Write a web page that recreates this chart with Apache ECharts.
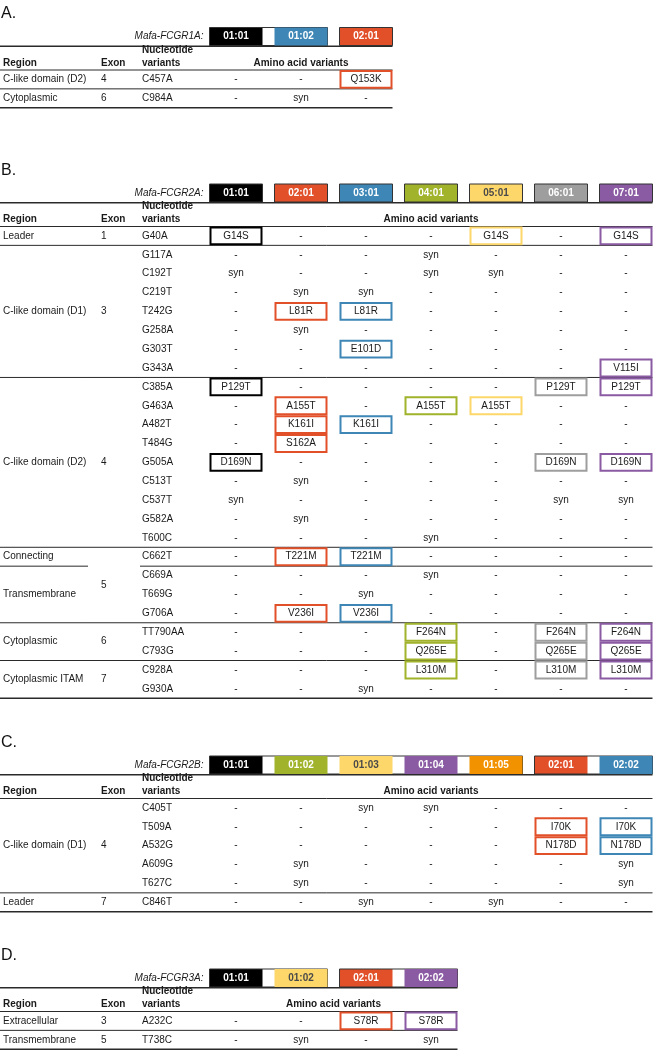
<!DOCTYPE html>
<html><head><meta charset="utf-8">
<script src="https://cdn.jsdelivr.net/npm/echarts@6/dist/echarts.min.js"></script>
<style>html,body{margin:0;padding:0;background:#fff}#c{width:660px;height:1050px}</style>
</head><body><div id="c"></div>
<script>
// ---------------- DATA ----------------
// Panel A
const A_gene = 'Mafa-FCGR1A:';
const A_alleles = ['01:01', '01:02', '02:01'];
const A_nucleotides = ['C457A', 'C984A'];
const A_regions = [['C-like domain (D2)', 1], ['Cytoplasmic', 1]];
const A_exons = [['4', 1], ['6', 1]];
const A_variants = [
  ['-', '-', 'Q153K'],
  ['-', 'syn', '-']
];
// Panel B
const B_gene = 'Mafa-FCGR2A:';
const B_alleles = ['01:01', '02:01', '03:01', '04:01', '05:01', '06:01', '07:01'];
const B_nucleotides = ['G40A', 'G117A', 'C192T', 'C219T', 'T242G', 'G258A', 'G303T', 'G343A',
  'C385A', 'G463A', 'A482T', 'T484G', 'G505A', 'C513T', 'C537T', 'G582A', 'T600C',
  'C662T', 'C669A', 'T669G', 'G706A', 'TT790AA', 'C793G', 'C928A', 'G930A'];
const B_regions = [['Leader', 1], ['C-like domain (D1)', 7], ['C-like domain (D2)', 9], ['Connecting', 1],
  ['Transmembrane', 3], ['Cytoplasmic', 2], ['Cytoplasmic ITAM', 2]];
const B_exons = [['1', 1], ['3', 7], ['4', 9], ['5', 4], ['6', 2], ['7', 2]];
const B_variants = [
  ['G14S', '-', '-', '-', 'G14S', '-', 'G14S'],
  ['-', '-', '-', 'syn', '-', '-', '-'],
  ['syn', '-', '-', 'syn', 'syn', '-', '-'],
  ['-', 'syn', 'syn', '-', '-', '-', '-'],
  ['-', 'L81R', 'L81R', '-', '-', '-', '-'],
  ['-', 'syn', '-', '-', '-', '-', '-'],
  ['-', '-', 'E101D', '-', '-', '-', '-'],
  ['-', '-', '-', '-', '-', '-', 'V115I'],
  ['P129T', '-', '-', '-', '-', 'P129T', 'P129T'],
  ['-', 'A155T', '-', 'A155T', 'A155T', '-', '-'],
  ['-', 'K161I', 'K161I', '-', '-', '-', '-'],
  ['-', 'S162A', '-', '-', '-', '-', '-'],
  ['D169N', '-', '-', '-', '-', 'D169N', 'D169N'],
  ['-', 'syn', '-', '-', '-', '-', '-'],
  ['syn', '-', '-', '-', '-', 'syn', 'syn'],
  ['-', 'syn', '-', '-', '-', '-', '-'],
  ['-', '-', '-', 'syn', '-', '-', '-'],
  ['-', 'T221M', 'T221M', '-', '-', '-', '-'],
  ['-', '-', '-', 'syn', '-', '-', '-'],
  ['-', '-', 'syn', '-', '-', '-', '-'],
  ['-', 'V236I', 'V236I', '-', '-', '-', '-'],
  ['-', '-', '-', 'F264N', '-', 'F264N', 'F264N'],
  ['-', '-', '-', 'Q265E', '-', 'Q265E', 'Q265E'],
  ['-', '-', '-', 'L310M', '-', 'L310M', 'L310M'],
  ['-', '-', 'syn', '-', '-', '-', '-']
];
// Panel C
const C_gene = 'Mafa-FCGR2B:';
const C_alleles = ['01:01', '01:02', '01:03', '01:04', '01:05', '02:01', '02:02'];
const C_nucleotides = ['C405T', 'T509A', 'A532G', 'A609G', 'T627C', 'C846T'];
const C_regions = [['C-like domain (D1)', 5], ['Leader', 1]];
const C_exons = [['4', 5], ['7', 1]];
const C_variants = [
  ['-', '-', 'syn', 'syn', '-', '-', '-'],
  ['-', '-', '-', '-', '-', 'I70K', 'I70K'],
  ['-', '-', '-', '-', '-', 'N178D', 'N178D'],
  ['-', 'syn', '-', '-', '-', '-', 'syn'],
  ['-', 'syn', '-', '-', '-', '-', 'syn'],
  ['-', '-', 'syn', '-', 'syn', '-', '-']
];
// Panel D
const D_gene = 'Mafa-FCGR3A:';
const D_alleles = ['01:01', '01:02', '02:01', '02:02'];
const D_nucleotides = ['A232C', 'T738C'];
const D_regions = [['Extracellular', 1], ['Transmembrane', 1]];
const D_exons = [['3', 1], ['5', 1]];
const D_variants = [
  ['-', '-', 'S78R', 'S78R'],
  ['-', 'syn', '-', 'syn']
];

// ---------------- STYLE ----------------
const PALETTE = {black: '#000000', blue: '#3d86b6', red: '#e2502a', green: '#a0b32b', yellow: '#fdd76a',
  gray: '#9e9e9e', purple: '#8a5ba3', orange: '#f39200'};
const A_colors = ['black', 'blue', 'red'];
const B_colors = ['black', 'red', 'blue', 'green', 'yellow', 'gray', 'purple'];
const C_colors = ['black', 'green', 'yellow', 'purple', 'orange', 'red', 'blue'];
const D_colors = ['black', 'yellow', 'red', 'purple'];

const ROW_H = 18.87, COL_W = 65, BOX_W = 53, HDR_H = 18;
const GRID_LEFT = 203.5;
const X_REGION = 3, X_EXON = 101, X_NUC = 142, REGION_LINE_END = 88;
const FAM = "'Liberation Sans', Arial, Helvetica, sans-serif";
const FONT = '10px ' + FAM, BOLD = 'bold 10px ' + FAM, ITAL = 'italic 10px ' + FAM;
const INK = '#1a1a1a', RULE = '#2a2a2a';

const panels = [
  {label: 'A.', gene: A_gene, alleles: A_alleles, colors: A_colors, nuc: A_nucleotides, regions: A_regions, exons: A_exons, variants: A_variants, top: 70},
  {label: 'B.', gene: B_gene, alleles: B_alleles, colors: B_colors, nuc: B_nucleotides, regions: B_regions, exons: B_exons, variants: B_variants, top: 226.5},
  {label: 'C.', gene: C_gene, alleles: C_alleles, colors: C_colors, nuc: C_nucleotides, regions: C_regions, exons: C_exons, variants: C_variants, top: 798.5},
  {label: 'D.', gene: D_gene, alleles: D_alleles, colors: D_colors, nuc: D_nucleotides, regions: D_regions, exons: D_exons, variants: D_variants, top: 1011.5}
];

function txt(text, x, y, font, align, fill) {
  return {type: 'text', style: {text: text, x: x, y: y, font: font, fill: fill || INK,
    align: align, verticalAlign: 'middle', textAlign: align, textVerticalAlign: 'middle'}};
}
function hline(x1, x2, y, w) {
  return {type: 'line', shape: {x1: x1, y1: y, x2: x2, y2: y}, style: {stroke: RULE, lineWidth: w}};
}
function expand(spans) {
  const out = [];
  spans.forEach((s, k) => { for (let j = 0; j < s[1]; j++) out.push(k); });
  return out;
}
function ranges(spans) {
  let start = 0;
  return spans.map(s => { const r = {name: s[0], start: start, end: start + s[1] - 1}; start += s[1]; return r; });
}
function groupKey(a) { return a.split(':')[0]; }

function buildSeries(p, gi) {
  const base = {type: 'custom', coordinateSystem: 'cartesian2d', xAxisIndex: gi, yAxisIndex: gi,
    clip: false, silent: true, animation: false, encode: {x: 0, y: 1}};
  const tableRight = cs => cs.x + cs.width - (COL_W - BOX_W) / 2;
  const series = [];

  // header: allele boxes, group frames, column titles, rules
  series.push(Object.assign({}, base, {
    z: 3,
    data: p.alleles.map((a, i) => [i, 0]),
    renderItem: function (params, api) {
      const i = params.dataIndex, cs = params.coordSys;
      const cx = api.coord([api.value(0), 0])[0];
      const colStep = api.size([1, 1])[0];
      const lineY = cs.y - 24.5;
      const col = PALETTE[p.colors[i]];
      const ch = [];
      ch.push({type: 'rect', shape: {x: cx - BOX_W / 2, y: lineY - HDR_H, width: BOX_W, height: HDR_H}, style: {fill: col}});
      ch.push(txt(p.alleles[i], cx, lineY - HDR_H / 2, BOLD, 'center', p.colors[i] === 'yellow' ? '#4a4a4a' : '#ffffff'));
      const g = groupKey(p.alleles[i]);
      if (i === 0 || groupKey(p.alleles[i - 1]) !== g) {
        let last = i;
        while (last + 1 < p.alleles.length && groupKey(p.alleles[last + 1]) === g) last++;
        ch.push({type: 'rect', shape: {x: cx - BOX_W / 2, y: lineY - HDR_H, width: (last - i) * colStep + BOX_W, height: HDR_H},
          style: {fill: null, stroke: '#333333', lineWidth: 1}});
      }
      if (i === 0) {
        const right = tableRight(cs);
        const lastCx = cx + (p.alleles.length - 1) * colStep;
        ch.push(hline(0, right, lineY + 0.75, 1.5));
        ch.push(hline(0, right, cs.y, 1));
        ch.push(txt(p.label, 1, cs.y - 56, '16px ' + FAM, 'left', '#111'));
        ch.push(txt(p.gene, cx - BOX_W / 2 - 6, lineY - HDR_H / 2, ITAL, 'right', INK));
        ch.push(txt('Nucleotide', X_NUC, cs.y - 20, BOLD, 'left'));
        ch.push(txt('variants', X_NUC, cs.y - 7, BOLD, 'left'));
        ch.push(txt('Region', X_REGION, cs.y - 7, BOLD, 'left'));
        ch.push(txt('Exon', X_EXON, cs.y - 7, BOLD, 'left'));
        ch.push(txt('Amino acid variants', (cx + lastCx) / 2, cs.y - 7, BOLD, 'center'));
      }
      return {type: 'group', children: ch};
    }
  }));

  // rows: nucleotide variant labels and separators
  const regionOf = expand(p.regions), exonOf = expand(p.exons);
  series.push(Object.assign({}, base, {
    z: 2,
    data: p.nuc.map((n, r) => [0, r]),
    renderItem: function (params, api) {
      const r = params.dataIndex, cs = params.coordSys;
      const y = api.coord([0, api.value(1)])[1];
      const h = api.size([1, 1])[1];
      const yb = y + h / 2;
      const right = tableRight(cs);
      const ch = [txt(p.nuc[r], X_NUC, y, FONT, 'left')];
      if (r === p.nuc.length - 1) ch.push(hline(0, right, yb, 1.5));
      else if (exonOf[r] !== exonOf[r + 1]) ch.push(hline(0, right, yb, 1));
      else if (regionOf[r] !== regionOf[r + 1]) {
        ch.push(hline(0, REGION_LINE_END, yb, 1));
        ch.push(hline(X_NUC - 2, right, yb, 1));
      }
      return {type: 'group', children: ch};
    }
  }));

  // region and exon labels (centred on their row span)
  const spanLabels = [];
  ranges(p.regions).forEach(s => spanLabels.push({x: X_REGION, s: s}));
  ranges(p.exons).forEach(s => spanLabels.push({x: X_EXON, s: s}));
  series.push(Object.assign({}, base, {
    z: 2,
    data: spanLabels.map(o => [0, o.s.start]),
    renderItem: function (params, api) {
      const o = spanLabels[params.dataIndex];
      const y1 = api.coord([0, o.s.start])[1], y2 = api.coord([0, o.s.end])[1];
      return txt(o.s.name, o.x, (y1 + y2) / 2, FONT, 'left');
    }
  }));

  // amino acid variant cells
  const cells = [];
  p.variants.forEach((row, r) => row.forEach((v, c) => cells.push({c: c, r: r, v: v})));
  series.push(Object.assign({}, base, {
    z: 4,
    data: cells.map(o => [o.c, o.r]),
    renderItem: function (params, api) {
      const o = cells[params.dataIndex];
      const pt = api.coord([api.value(0), api.value(1)]);
      const h = api.size([1, 1])[1];
      const ch = [];
      const boxed = o.v !== '-' && o.v !== 'syn';
      if (boxed) {
        ch.push({type: 'rect', shape: {x: pt[0] - BOX_W / 2 + 1, y: pt[1] - h / 2 + 1, width: BOX_W - 2, height: h - 2},
          style: {fill: '#ffffff', stroke: PALETTE[p.colors[o.c]], lineWidth: 2}});
      }
      ch.push(txt(o.v, pt[0], pt[1], FONT, 'center'));
      return {type: 'group', children: ch};
    }
  }));
  return series;
}

const option = {
  animation: false,
  grid: panels.map(p => ({left: GRID_LEFT, top: p.top, width: COL_W * p.alleles.length, height: ROW_H * p.nuc.length})),
  xAxis: panels.map((p, i) => ({gridIndex: i, type: 'category', data: p.alleles, show: false})),
  yAxis: panels.map((p, i) => ({gridIndex: i, type: 'category', data: p.nuc, inverse: true, show: false})),
  series: panels.flatMap((p, i) => buildSeries(p, i))
};
const chart = echarts.init(document.getElementById('c'), null, {renderer: 'canvas'});
chart.setOption(option);
</script>
</body></html>
